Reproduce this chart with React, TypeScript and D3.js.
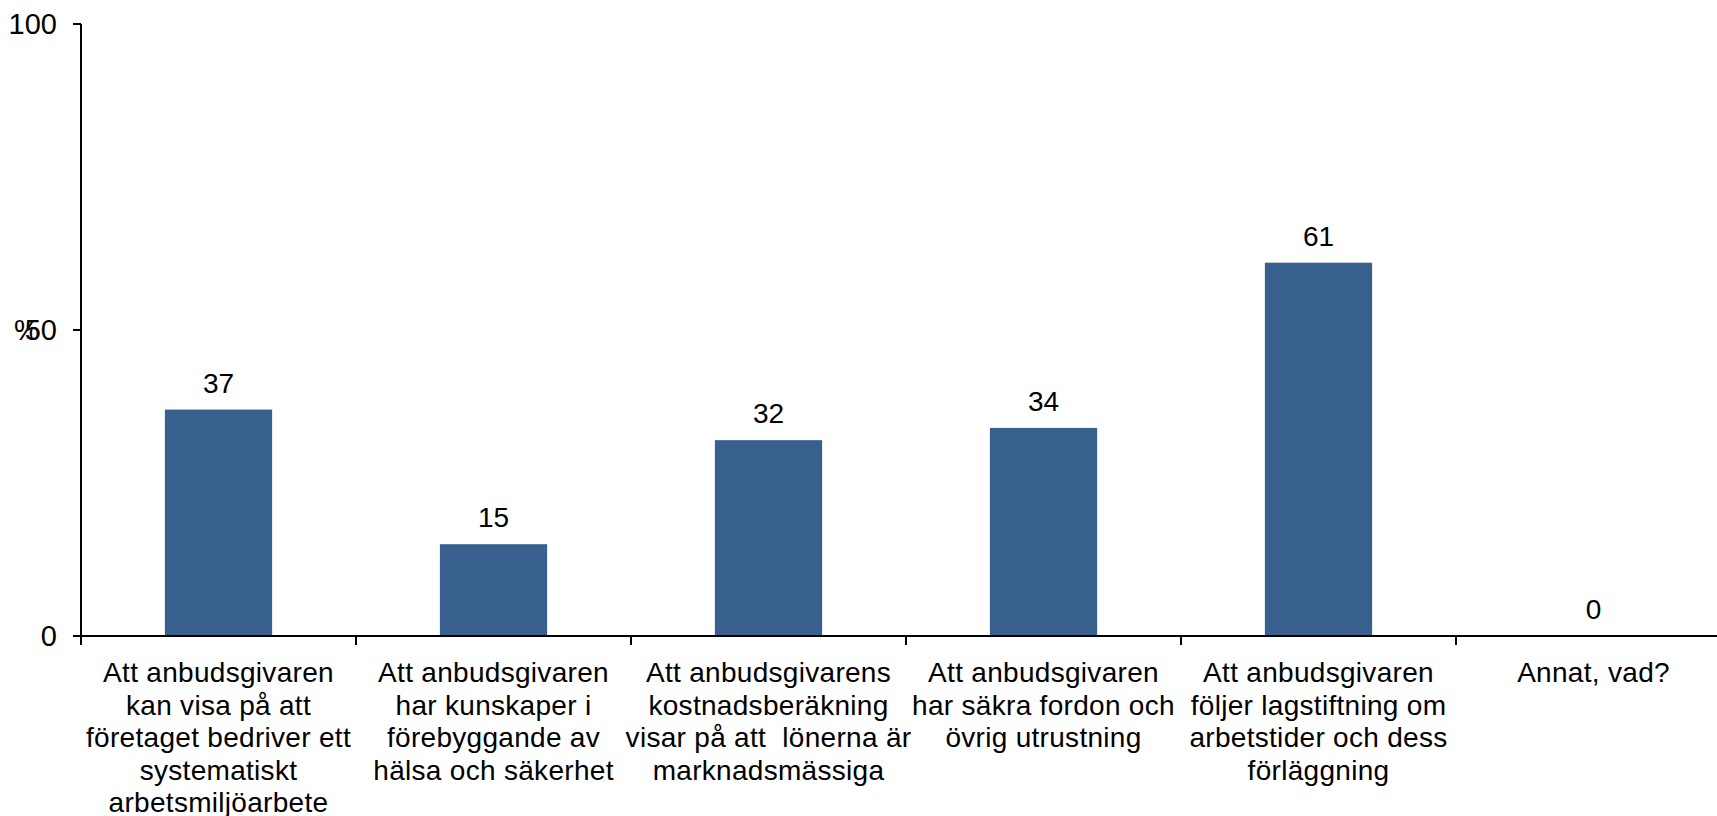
import React from "react";
import * as d3 from "d3";

const categories = [
  "Att anbudsgivaren\nkan visa på att\nföretaget bedriver ett\nsystematiskt\narbetsmiljöarbete",
  "Att anbudsgivaren\nhar kunskaper i\nförebyggande av\nhälsa och säkerhet",
  "Att anbudsgivarens\nkostnadsberäkning\nvisar på att  lönerna är\nmarknadsmässiga",
  "Att anbudsgivaren\nhar säkra fordon och\növrig utrustning",
  "Att anbudsgivaren\nföljer lagstiftning om\narbetstider och dess\nförläggning",
  "Annat, vad?",
];
const values = [37, 15, 32, 34, 61, 0];
const yTicks = [0, 50, 100];
const yTitle = "%";

const W = 1717;
const H = 816;
const FONT = "'Liberation Sans', Arial, sans-serif";

export default function App() {
  const x = d3
    .scaleBand<number>()
    .domain(d3.range(categories.length))
    .range([81, 1731])
    .paddingInner(0.61)
    .paddingOuter(0.305);
  const y = d3.scaleLinear().domain([0, 100]).range([636, 24]);
  const step = x.step();
  const x0 = 81;

  return (
    <svg
      width={W}
      height={H}
      style={{ position: "absolute", left: 0, top: 0, background: "#fff" }}
      fontFamily={FONT}
    >
      {values.map((v, i) => (
        <g key={i}>
          <rect
            x={x(i)}
            y={y(v)}
            width={x.bandwidth()}
            height={y(0) - y(v)}
            fill="#37608F"
          />
          <text
            x={(x(i) ?? 0) + x.bandwidth() / 2}
            y={y(v) - 17}
            textAnchor="middle"
            fontSize={28}
            fill="#000"
          >
            {v}
          </text>
        </g>
      ))}

      {/* y axis */}
      <line x1={x0} x2={x0} y1={y(100)} y2={y(0)} stroke="#000" strokeWidth={2} />
      {yTicks.map((t) => (
        <g key={t}>
          <line x1={73} x2={x0} y1={y(t)} y2={y(t)} stroke="#000" strokeWidth={2} />
          <text
            x={57}
            y={y(t)}
            textAnchor="end"
            dominantBaseline="central"
            fontSize={29}
            fill="#000"
          >
            {t}
          </text>
        </g>
      ))}
      <text x={14} y={y(50)} dominantBaseline="central" fontSize={29} fill="#000">
        {yTitle}
      </text>

      {/* x axis */}
      <line x1={x0} x2={W} y1={y(0)} y2={y(0)} stroke="#000" strokeWidth={2} />
      {d3.range(categories.length + 1).map((i) => (
        <line
          key={i}
          x1={x0 + i * step}
          x2={x0 + i * step}
          y1={y(0)}
          y2={y(0) + 9}
          stroke="#000"
          strokeWidth={2}
        />
      ))}
      {categories.map((c, i) => (
        <text
          key={i}
          x={(x(i) ?? 0) + x.bandwidth() / 2}
          y={682}
          textAnchor="middle"
          fontSize={28}
          letterSpacing={0.3}
          fill="#000"
        >
          {c.split("\n").map((ln, j) => (
            <tspan key={j} x={(x(i) ?? 0) + x.bandwidth() / 2} dy={j === 0 ? 0 : 32.5} xmlSpace="preserve">
              {ln}
            </tspan>
          ))}
        </text>
      ))}
    </svg>
  );
}
